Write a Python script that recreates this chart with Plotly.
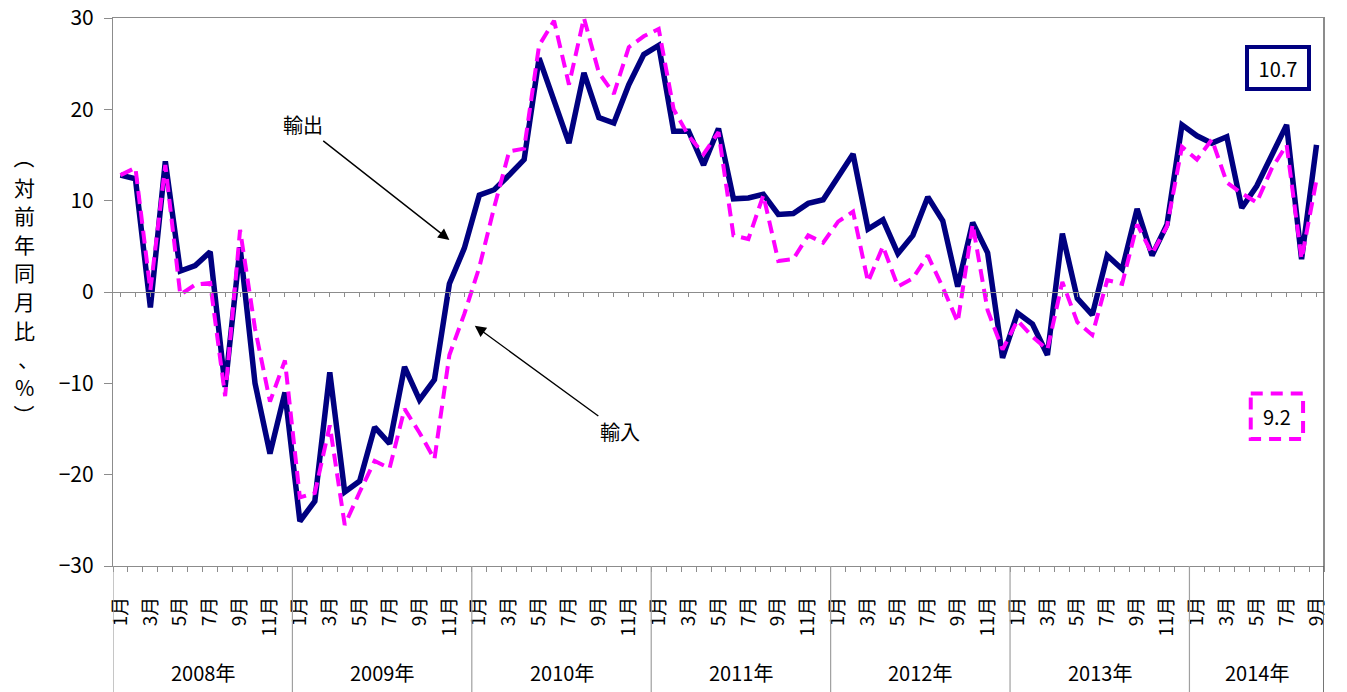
import plotly.graph_objects as go
import numpy as np

# --- data ---
years = ['2008年', '2009年', '2010年', '2011年', '2012年', '2013年', '2014年']
months_per_year = [12, 12, 12, 12, 12, 12, 9]

# 輸出 (exports), y/y %
exports = [
    12.8, 12.4, -1.7, 14.3, 2.3, 2.9, 4.4, -10.4, 4.9, -10.0, -17.7, -11.0,
    -25.1, -22.9, -8.8, -21.9, -20.7, -14.8, -16.6, -8.2, -11.8, -9.6, 0.9, 4.8,
    10.6, 11.2, 12.8, 14.5, 25.6, 20.9, 16.3, 24.0, 19.1, 18.5, 22.7, 26.0,
    27.0, 17.6, 17.6, 13.9, 17.9, 10.2, 10.3, 10.7, 8.5, 8.6, 9.7, 10.1,
    12.5, 15.1, 6.9, 7.9, 4.2, 6.2, 10.4, 7.8, 0.6, 7.6, 4.3, -7.2,
    -2.3, -3.5, -6.9, 6.4, -0.7, -2.5, 4.0, 2.5, 9.1, 4.0, 7.4, 18.3,
    17.1, 16.3, 17.0, 9.2, 11.6, 15.1, 18.3, 3.6, 16.1,
]

# 輸入 (imports), y/y %
imports = [
    12.8, 13.6, 0.2, 13.9, -0.3, 0.8, 1.0, -11.4, 6.8, -4.0, -12.0, -7.5,
    -22.5, -22.0, -14.6, -25.5, -21.9, -18.5, -19.3, -12.8, -15.4, -18.3, -6.9, -2.4,
    2.7, 9.3, 15.4, 15.7, 27.0, 29.7, 22.7, 30.0, 24.0, 21.7, 26.8, 28.0,
    28.8, 20.0, 17.1, 15.1, 17.5, 6.2, 5.8, 10.6, 3.4, 3.6, 6.2, 5.4,
    7.7, 8.8, 1.1, 5.0, 0.6, 1.5, 4.0, 0.5, -3.3, 7.4, -2.0, -6.3,
    -3.1, -4.9, -6.3, 1.1, -3.3, -4.7, 1.3, 0.9, 7.4, 4.2, 7.2, 15.9,
    14.5, 16.7, 12.0, 10.8, 9.8, 13.5, 16.1, 3.6, 12.3,
]

y_ticks = [-30, -20, -10, 0, 10, 20, 30]
box_labels = ['10.7', '9.2']
ylabel_chars = ['（', '対', '前', '年', '同', '月', '比', '、', '%', '）']

# --- derived positions ---
n = len(exports)
x = np.arange(n)
month_no = [m + 1 for cnt in months_per_year for m in range(cnt)]
odd_idx = [i for i in range(n) if month_no[i] % 2 == 1]
odd_text = [f'{month_no[i]}月' for i in odd_idx]
starts = np.concatenate([[0], np.cumsum(months_per_year)])
bounds = starts - 0.5
year_mid = [(starts[k] + starts[k + 1] - 1) / 2 for k in range(len(years))]

FONT = 'Noto Sans CJK JP'
NAVY = '#000080'
MAGENTA = '#FF00FF'
GRID = '#8c8c8c'

fig = go.Figure()

fig.add_trace(go.Scatter(
    x=x, y=exports, mode='lines', name='輸出',
    line=dict(color=NAVY, width=5.5), hoverinfo='skip'
))
fig.add_trace(go.Scatter(
    x=x, y=imports, mode='lines', name='輸入',
    line=dict(color=MAGENTA, width=4, dash='13px,7px'), hoverinfo='skip'
))
# invisible trace so the zero-line axis gets drawn
fig.add_trace(go.Scatter(
    x=[0], y=[0], xaxis='x2', mode='markers',
    marker=dict(opacity=0), showlegend=False, hoverinfo='skip'
))

# year separators below the plot
shapes = []
for b in bounds:
    shapes.append(dict(type='line', xref='x', yref='paper', x0=b, x1=b,
                       y0=0, y1=-0.235, line=dict(color='#a0a0a0', width=1.2)))
shapes.append(dict(type='line', xref='x', yref='paper', x0=bounds[-1], x1=bounds[-1],
                   y0=1, y1=-0.235, line=dict(color='#404040', width=1.2)))
# dashed box for the imports label
shapes.append(dict(type='rect', xref='x', yref='y', x0=75.6, x1=79.1, y0=-11.1, y1=-16.1,
                   line=dict(color=MAGENTA, width=4, dash='12px,8px'),
                   fillcolor='rgba(0,0,0,0)'))

annotations = []
for k, yr in enumerate(years):
    annotations.append(dict(x=year_mid[k], y=-0.195, xref='x', yref='paper',
                            text=yr, showarrow=False, yanchor='middle',
                            font=dict(family=FONT, size=20, color='black')))

# vertical y-axis title, one character per line
for k, ch in enumerate(ylabel_chars):
    py = 158 + 28.6 * k  # pixel row of the character centre
    annotations.append(dict(x=-0.073, y=(566 - py) / 548, xref='paper', yref='paper',
                            text=ch, showarrow=False,
                            textangle=90 if ch in '（）' else 0,
                            xshift=4 if ch == '、' else 0,
                            font=dict(family=FONT, size=21, color='black'),
                            xanchor='center', yanchor='middle'))

annotations.append(dict(x=22.0, y=5.7, xref='x', yref='y', ax=12.2, ay=18.3,
                        axref='x', ayref='y', text='輸出', showarrow=True,
                        arrowhead=2, arrowsize=1.6, arrowwidth=1.4, arrowcolor='black',
                        font=dict(family=FONT, size=20, color='black')))
annotations.append(dict(x=23.7, y=-3.7, xref='x', yref='y', ax=33.4, ay=-15.3,
                        axref='x', ayref='y', text='輸入', showarrow=True,
                        arrowhead=2, arrowsize=1.6, arrowwidth=1.4, arrowcolor='black',
                        font=dict(family=FONT, size=20, color='black')))

annotations.append(dict(x=77.4, y=24.5, xref='x', yref='y', text=box_labels[0],
                        showarrow=False, bordercolor=NAVY, borderwidth=4,
                        width=56, height=36, bgcolor='white',
                        font=dict(family=FONT, size=20, color='black')))
annotations.append(dict(x=77.35, y=-13.6, xref='x', yref='y', text=box_labels[1],
                        showarrow=False,
                        font=dict(family=FONT, size=20, color='black')))

fig.update_layout(
    width=1347, height=692,
    margin=dict(l=113, r=23, t=18, b=126, autoexpand=False),
    paper_bgcolor='white', plot_bgcolor='white',
    showlegend=False,
    font=dict(family=FONT, size=20, color='black'),
    xaxis=dict(
        range=[-0.5, n - 0.5], tickmode='array', tickvals=odd_idx, ticktext=odd_text,
        tickangle=-90, ticks='', showgrid=False, zeroline=False, automargin=False,
        showline=True, linecolor=GRID, linewidth=1.2, mirror=True,
        ticklabelstandoff=22,
        tickfont=dict(family=FONT, size=19, color='black'),
        minor=dict(tickmode='array', tickvals=list(bounds[0]+np.arange(n + 1)),
                   ticks='outside', ticklen=5, tickcolor=GRID, tickwidth=1, showgrid=False),
    ),
    xaxis2=dict(
        overlaying='x', anchor='free', position=0.5, side='bottom',
        range=[-0.5, n - 0.5], tickmode='array', tickvals=list(x),
        ticks='outside', ticklen=4, tickcolor=GRID, showticklabels=False,
        showgrid=False, zeroline=False, showline=True, linecolor=GRID, linewidth=1.2,
    ),
    yaxis=dict(
        range=[-30, 30], tickmode='array', tickvals=y_ticks, automargin=False,
        ticks='outside', ticklen=8, tickcolor=GRID, showgrid=False, zeroline=False,
        showline=True, linecolor=GRID, linewidth=1.2, mirror=True,
        ticklabelstandoff=6,
        tickfont=dict(family=FONT, size=21, color='black'),
    ),
    shapes=shapes,
    annotations=annotations,
)

fig.write_html("out.html", config={'displayModeBar': False},
               post_script="document.body.style.margin='0';")
